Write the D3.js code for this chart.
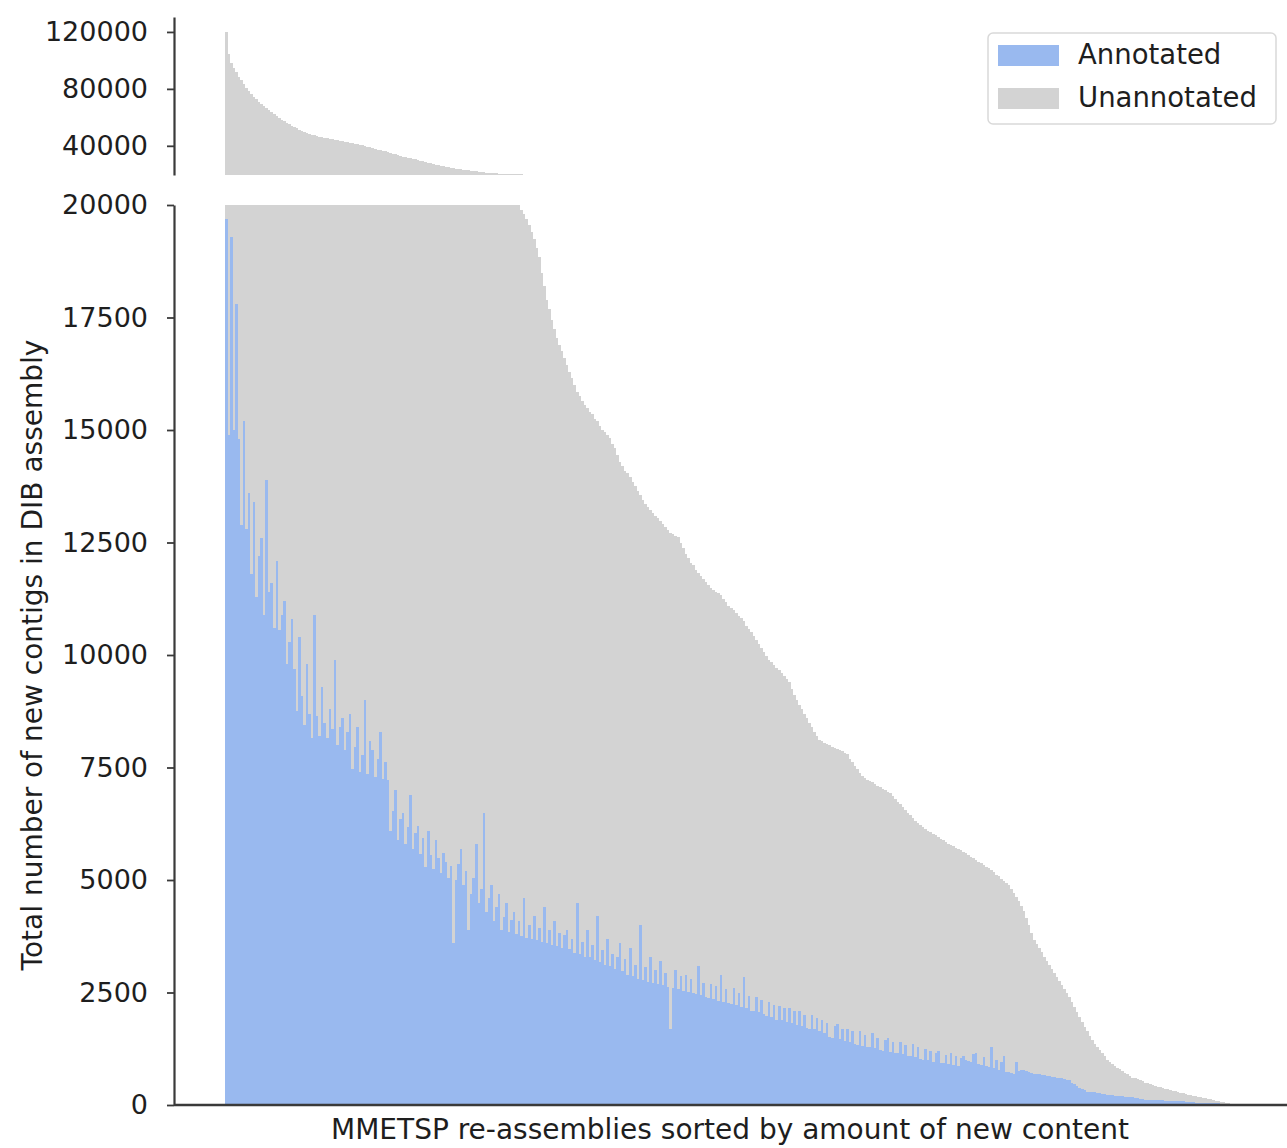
<!DOCTYPE html>
<html>
<head>
<meta charset="utf-8">
<script src="https://cdn.jsdelivr.net/npm/d3@7"></script>
<style>
  body { margin: 0; background: #fff; }
  svg { display: block; }
  text { font-family: "DejaVu Sans", sans-serif; fill: #1e1e1e; }
</style>
</head>
<body>
<svg id="chart" width="1287" height="1148"></svg>
<script>
// New contigs per MMETSP re-assembly, sorted by total new content (descending)
const totalContigs = [
  120000,104500,98500,94500,91800,88600,85900,83200,80700,78600,
  76500,74600,72800,71000,69300,67800,66300,65000,63600,62200,
  60900,59500,58400,57300,56200,55200,54200,53200,52300,51400,
  50600,49800,49100,48500,47900,47400,46900,46400,46000,45600,
  45200,44900,44600,44300,44000,43600,43200,42900,42500,42200,
  41900,41500,41100,40700,40300,39800,39400,38900,38400,37800,
  37300,36900,36500,36100,35700,35100,34600,34000,33500,32900,
  32400,32000,31600,31200,30900,30500,30000,29500,29100,28600,
  28100,27600,27200,26800,26400,26000,25600,25300,24900,24500,
  24100,23900,23600,23400,23200,22900,22700,22500,22300,22000,
  21800,21600,21400,21200,21000,20900,20700,20600,20450,20300,
  20200,20150,20100,20080,20050,20020,20000,19900,19800,19700,
  19550,19400,19250,19050,18850,18500,18200,17900,17700,17450,
  17250,17050,16900,16750,16600,16450,16300,16150,16000,15850,
  15750,15650,15550,15500,15400,15350,15250,15200,15100,15000,
  14950,14880,14820,14700,14600,14450,14300,14200,14100,14050,
  13950,13850,13750,13650,13550,13450,13350,13280,13220,13150,
  13100,13050,12980,12920,12850,12780,12720,12680,12650,12630,
  12500,12380,12250,12150,12050,11990,11900,11820,11750,11680,
  11620,11560,11500,11450,11400,11370,11340,11250,11180,11100,
  11050,11000,10930,10870,10820,10750,10650,10580,10520,10420,
  10330,10240,10150,10060,9970,9900,9840,9780,9720,9660,
  9600,9530,9460,9390,9250,9120,9000,8880,8800,8700,
  8600,8500,8400,8300,8200,8120,8080,8050,8020,7990,
  7960,7940,7910,7880,7860,7830,7800,7700,7620,7540,
  7460,7380,7310,7270,7230,7200,7170,7140,7100,7060,
  7030,7000,6960,6930,6860,6800,6740,6680,6620,6560,
  6500,6440,6380,6320,6260,6220,6180,6140,6100,6060,
  6030,6000,5960,5920,5880,5840,5810,5780,5750,5720,
  5690,5660,5620,5590,5550,5520,5480,5440,5410,5380,
  5340,5300,5260,5220,5170,5120,5080,5020,4980,4940,
  4880,4800,4720,4630,4530,4430,4320,4160,4000,3830,
  3670,3570,3480,3390,3300,3200,3110,3020,2930,2850,
  2760,2670,2580,2500,2390,2280,2170,2060,1950,1840,
  1740,1640,1540,1440,1360,1290,1220,1150,1080,1010,
  950,910,870,830,790,750,710,680,640,610,
  590,570,545,525,500,480,460,440,425,410,
  395,380,365,350,335,320,305,290,275,260,
  245,232,220,208,196,184,172,160,148,136,
  124,112,100,88,76,65,52,40,27,14
];

// Of those, contigs that received an annotation
const annotatedContigs = [
  19700,14900,19300,15000,17800,14800,12900,15200,12800,13600,
  11800,13400,11300,12200,12600,10900,13900,11400,11600,10600,
  12100,10550,10900,11200,9800,10300,10800,9700,8750,10400,
  9100,8450,9800,8700,8150,10900,8650,8200,9300,8500,
  8150,8800,8350,9900,8000,8400,8600,7900,8300,8700,
  7470,7950,8400,7400,7780,9000,7350,8100,7900,7300,
  7680,8300,7250,7630,7220,6100,6530,7000,5900,6350,
  6500,5800,6180,6900,5700,6050,6200,5580,5930,5290,
  6100,5560,5240,5900,5500,5150,5600,5400,5050,5320,
  3600,5000,5350,5700,4900,5200,3900,4700,5050,5800,
  4500,4800,6500,4300,4600,4900,4100,4400,4700,3900,
  4170,4500,3850,4120,4300,3800,4080,3750,4600,3720,
  4000,3680,4200,3660,3940,3620,4400,3600,3880,3560,
  4100,3540,3820,3500,3780,3900,3460,3700,3380,4500,
  3350,3620,3300,3900,3280,3550,3220,4200,3180,3450,
  3120,3700,3100,3350,3020,3300,3600,2980,3250,2900,
  3500,2860,3120,2800,4000,2780,3060,2740,3300,2720,
  3000,2680,3200,2660,2940,2620,1700,2600,3000,2580,
  2860,2540,2900,2520,2800,2480,2460,3100,2440,2720,
  2400,2380,2700,2360,2640,2320,2900,2300,2580,2260,
  2240,2600,2220,2500,2180,2840,2150,2420,2100,2080,
  2400,2060,2340,2020,1980,2300,1950,2220,1900,2200,
  1880,2160,1840,2150,1820,2080,1780,2100,1760,2010,
  1720,1700,2000,1680,1940,1640,1900,1600,1820,1520,
  1500,1750,1800,1460,1700,1420,1700,1400,1640,1360,
  1340,1650,1320,1560,1290,1280,1600,1260,1500,1220,
  1210,1440,1500,1180,1400,1160,1150,1400,1130,1340,
  1100,1090,1350,1070,1290,1030,1010,1250,990,1200,
  960,1150,1200,940,930,1120,910,1150,900,1080,
  870,1050,1100,1000,980,960,1140,1150,920,900,
  1060,860,840,1290,820,1000,780,960,1100,740,
  730,720,700,950,760,770,780,760,740,720,
  700,690,680,670,660,650,640,630,620,610,
  600,590,580,560,550,500,460,420,380,350,
  330,300,290,285,280,270,260,250,240,230,
  220,215,210,200,195,190,185,180,175,170,
  160,150,140,130,120,115,112,110,110,108,
  105,102,100,98,95,92,90,88,85,80,
  75,70,65,60,55,50,48,46,44,42,
  40,38,36,34,32,30,28,25,18,10
];

const seriesNames = ["Annotated", "Unannotated"];
const seriesColors = ["#99b9ef", "#d3d3d3"];
const lowerTicks = [0, 2500, 5000, 7500, 10000, 12500, 15000, 17500, 20000];
const upperTicks = [40000, 80000, 120000];
const xLabel = "MMETSP re-assemblies sorted by amount of new content";
const yLabel = "Total number of new contigs in DIB assembly";

const assemblies = totalContigs.map((_, i) => i);

const svg = d3.select("#chart");
const frame = { left: 174, right: 1287, plotLeft: 225, plotRight: 1235 };

const x = d3.scaleBand().domain(assemblies).range([frame.plotLeft, frame.plotRight]).padding(0);

// Broken y axis: a tall lower panel and a short upper panel for the largest totals
const panels = [
  { name: "lower", y: d3.scaleLinear().domain([0, 20000]).range([1105, 205]), ticks: lowerTicks },
  { name: "upper", y: d3.scaleLinear().domain([19500, 130500]).range([175, 17]), ticks: upperTicks }
];

const defs = svg.append("defs");

panels.forEach(p => {
  const [d0, d1] = p.y.domain();
  const [r0, r1] = p.y.range();
  defs.append("clipPath").attr("id", "clip-" + p.name)
    .append("rect")
    .attr("x", frame.left).attr("y", r1)
    .attr("width", frame.right - frame.left).attr("height", r0 - r1);

  const g = svg.append("g").attr("clip-path", `url(#clip-${p.name})`)
    .attr("shape-rendering", "crispEdges");

  // Unannotated part: full total bar, annotated bar is drawn over its lower portion
  g.append("g").selectAll("rect")
    .data(assemblies.filter(i => totalContigs[i] > d0))
    .join("rect")
    .attr("x", i => x(i))
    .attr("width", x.bandwidth())
    .attr("y", i => p.y(Math.min(totalContigs[i], d1)))
    .attr("height", i => p.y(d0) - p.y(Math.min(totalContigs[i], d1)))
    .attr("fill", seriesColors[1]);

  g.append("g").selectAll("rect")
    .data(assemblies.filter(i => annotatedContigs[i] > d0))
    .join("rect")
    .attr("x", i => x(i))
    .attr("width", x.bandwidth())
    .attr("y", i => p.y(Math.min(annotatedContigs[i], d1)))
    .attr("height", i => p.y(d0) - p.y(Math.min(annotatedContigs[i], d1)))
    .attr("fill", seriesColors[0]);

  const axis = svg.append("g")
    .attr("transform", `translate(${frame.left},0)`)
    .call(d3.axisLeft(p.y).tickValues(p.ticks).tickSize(7).tickSizeOuter(0)
      .tickPadding(19).tickFormat(d3.format("d")));
  axis.select(".domain").attr("stroke", "#3a3a3a").attr("stroke-width", 2.2);
  axis.selectAll(".tick line").attr("stroke", "#3a3a3a").attr("stroke-width", 1.8);
  axis.selectAll(".tick text").attr("font-size", 27).attr("fill", "#1e1e1e")
    .attr("font-family", "DejaVu Sans, sans-serif");
});

// Bottom spine of the lower panel
const yLow = panels[0].y;
svg.append("line")
  .attr("x1", frame.left).attr("x2", frame.right)
  .attr("y1", yLow(0)).attr("y2", yLow(0))
  .attr("stroke", "#3a3a3a").attr("stroke-width", 2.4);

// Axis titles
svg.append("text")
  .attr("x", 730).attr("y", 1139)
  .attr("text-anchor", "middle").attr("font-size", 28)
  .text(xLabel);

svg.append("text")
  .attr("transform", `translate(42,655) rotate(-90)`)
  .attr("text-anchor", "middle").attr("font-size", 28)
  .text(yLabel);

// Legend
const legend = svg.append("g").attr("transform", "translate(988,33)");
legend.append("rect")
  .attr("width", 288).attr("height", 91).attr("rx", 5)
  .attr("fill", "#fff").attr("fill-opacity", 0.85)
  .attr("stroke", "#d9d9d9").attr("stroke-width", 1.5);
seriesNames.forEach((name, k) => {
  const row = legend.append("g").attr("transform", `translate(10,${12 + k * 43})`);
  row.append("rect").attr("width", 61).attr("height", 21).attr("fill", seriesColors[k]);
  row.append("text").attr("x", 80).attr("y", 19).attr("font-size", 27.5).text(name);
});
</script>
</body>
</html>
